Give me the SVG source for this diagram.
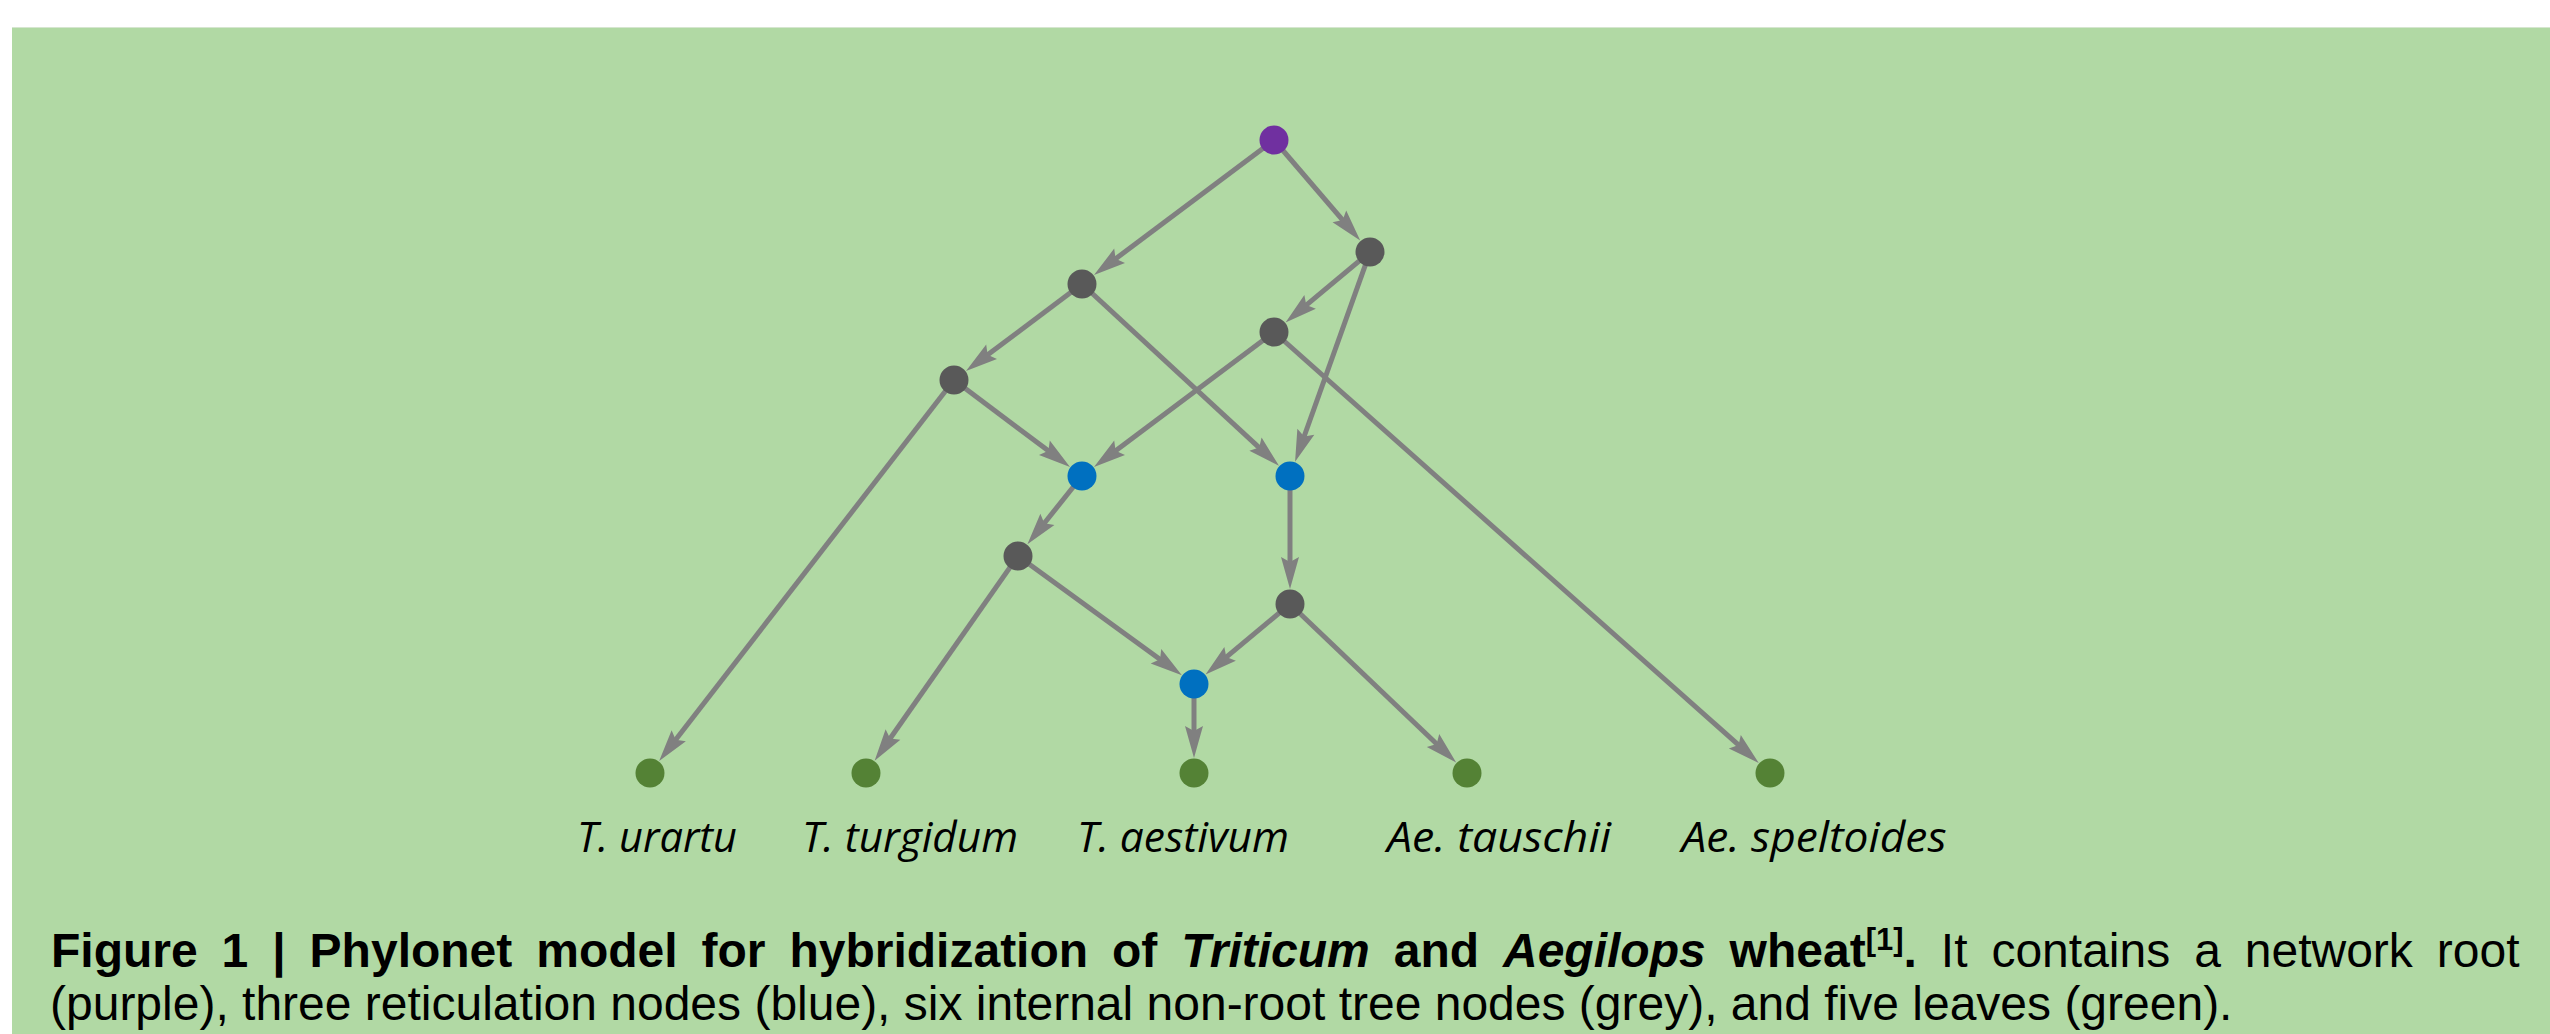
<svg xmlns="http://www.w3.org/2000/svg" width="2550" height="1034" viewBox="0 0 2550 1034">
<style>
.edge{stroke:#808080;stroke-width:5;fill:none;marker-end:url(#arr)}
.root{fill:#7030a0}
.tree{fill:#595959}
.ret{fill:#0070c0}
.leaf{fill:#548235}
.lab{font-family:"Open Sans","Noto Sans",sans-serif;font-style:italic;font-size:42px;fill:#000;text-anchor:middle}
.cap{font-family:"Liberation Sans",Arial,sans-serif;font-size:48px;fill:#000}
</style>
<defs>
<marker id="arr" viewBox="-15 -10 40 20" markerWidth="40" markerHeight="20" refX="0" refY="0" orient="auto" markerUnits="userSpaceOnUse">
<path d="M20,0 L-12,-9 L-7,0 L-12,9 Z" fill="#808080"/>
</marker>
</defs>
<rect x="0" y="0" width="2550" height="1034" fill="#ffffff"/>
<rect x="12" y="27" width="2538" height="1007" fill="#b1d9a4"/>
<line x1="12" y1="27.5" x2="2550" y2="27.5" stroke="#d6e6d0" stroke-width="1"/>
<g id="connectors">
<path class="edge" d="M1274,140 L1110,263"/>
<path class="edge" d="M1274,140 L1347.2,225.4"/>
<path class="edge" d="M1082,284 L982,359"/>
<path class="edge" d="M1082,284 L1264.3,452.3"/>
<path class="edge" d="M1370,252 L1300.9,309.6"/>
<path class="edge" d="M1370,252 L1301.8,443"/>
<path class="edge" d="M1274,332 L1110,455"/>
<path class="edge" d="M1274,332 L1743.8,749.7"/>
<path class="edge" d="M954,380 L1054,455"/>
<path class="edge" d="M954,380 L671.4,745.3"/>
<path class="edge" d="M1082,476 L1039.9,528.7"/>
<path class="edge" d="M1290,476 L1290,569"/>
<path class="edge" d="M1018,556 L886.1,744.3"/>
<path class="edge" d="M1018,556 L1165.7,663.4"/>
<path class="edge" d="M1290,604 L1220.9,661.6"/>
<path class="edge" d="M1290,604 L1441.7,748.8"/>
<path class="edge" d="M1194,684 L1194,738"/>
</g>
<g id="root"><circle class="root" cx="1274" cy="140" r="14.5"/></g>
<g id="n_a"><circle class="tree" cx="1082" cy="284" r="14.5"/></g>
<g id="n_b"><circle class="tree" cx="1370" cy="252" r="14.5"/></g>
<g id="n_c"><circle class="tree" cx="954" cy="380" r="14.5"/></g>
<g id="n_d"><circle class="tree" cx="1274" cy="332" r="14.5"/></g>
<g id="ret1"><circle class="ret" cx="1082" cy="476" r="14.5"/></g>
<g id="ret2"><circle class="ret" cx="1290" cy="476" r="14.5"/></g>
<g id="n_e"><circle class="tree" cx="1018" cy="556" r="14.5"/></g>
<g id="n_f"><circle class="tree" cx="1290" cy="604" r="14.5"/></g>
<g id="ret3"><circle class="ret" cx="1194" cy="684" r="14.5"/></g>
<g id="leaf_urartu"><circle class="leaf" cx="650" cy="773" r="14.5"/><text class="lab" x="657" y="852" textLength="160" lengthAdjust="spacingAndGlyphs">T. urartu</text></g>
<g id="leaf_turgidum"><circle class="leaf" cx="866" cy="773" r="14.5"/><text class="lab" x="910" y="852" textLength="216" lengthAdjust="spacingAndGlyphs">T. turgidum</text></g>
<g id="leaf_aestivum"><circle class="leaf" cx="1194" cy="773" r="14.5"/><text class="lab" x="1183" y="852" textLength="212" lengthAdjust="spacingAndGlyphs">T. aestivum</text></g>
<g id="leaf_tauschii"><circle class="leaf" cx="1467" cy="773" r="14.5"/><text class="lab" x="1499" y="852" textLength="224" lengthAdjust="spacingAndGlyphs">Ae. tauschii</text></g>
<g id="leaf_speltoides"><circle class="leaf" cx="1770" cy="773" r="14.5"/><text class="lab" x="1814" y="852" textLength="265" lengthAdjust="spacingAndGlyphs">Ae. speltoides</text></g>
<g id="caption">
<text class="cap" x="51" y="967" word-spacing="10.6"><tspan font-weight="bold">Figure 1 | Phylonet model for hybridization of <tspan font-style="italic">Triticum</tspan> and <tspan font-style="italic">Aegilops</tspan> wheat<tspan baseline-shift="super" font-size="31">[1]</tspan>.</tspan> It contains a network root</text>
<text class="cap" x="50" y="1020">(purple), three reticulation nodes (blue), six internal non-root tree nodes (grey), and five leaves (green).</text>
</g>
</svg>
